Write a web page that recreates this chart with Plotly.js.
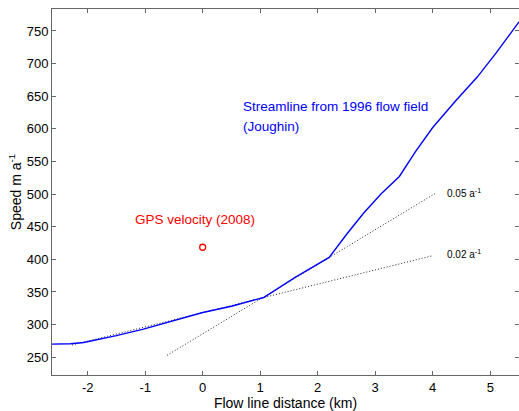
<!DOCTYPE html>
<html>
<head>
<meta charset="utf-8">
<script src="https://cdn.plot.ly/plotly-3.0.1.min.js"></script>
<style>html,body{margin:0;padding:0;background:#fff;}#chart{width:519px;height:411px;}</style>
</head>
<body>
<div id="chart"></div>
<script>
// Streamline speed from 1996 flow field (Joughin)
const streamDist = [-2.62, -2.3, -2.07, -1.5, -1.03, -0.5, 0.0, 0.5, 1.06, 1.6, 2.2, 2.5, 2.8, 3.1, 3.42, 3.7, 4.0, 4.4, 4.77, 5.1, 5.5];
const streamSpeed = [270, 270.5, 272.5, 283, 293, 306, 318.5, 328, 341.5, 372, 403, 438, 471, 500, 527, 565, 602, 643, 679, 716, 764];
// GPS velocity (2008)
const gpsDist = [0];
const gpsSpeed = [418.5];
// Reference strain-rate lines
const line05Dist = [-0.62, 4.05];
const line05Speed = [252.9, 501.3];
const line02Dist = [-2.27, 4.0];
const line02Speed = [268.7, 405.6];
// Tick values
const xTicks = [-2, -1, 0, 1, 2, 3, 4, 5];
const yTicks = [250, 300, 350, 400, 450, 500, 550, 600, 650, 700, 750];

const FONT = 'Liberation Sans, Arial, Helvetica, sans-serif';

const traces = [
  {x: line05Dist, y: line05Speed, mode: 'lines', line: {color: '#222', width: 1, dash: '1px,2px'}, hoverinfo: 'skip'},
  {x: line02Dist, y: line02Speed, mode: 'lines', line: {color: '#222', width: 1, dash: '1px,2px'}, hoverinfo: 'skip'},
  {x: streamDist, y: streamSpeed, mode: 'lines', line: {color: 'rgb(0,0,255)', width: 1.4}},
  {x: gpsDist, y: gpsSpeed, mode: 'markers', marker: {symbol: 'circle-open', size: 6, color: 'rgb(255,0,0)', line: {width: 1.3, color: 'rgb(255,0,0)'}}}
];

const axisCommon = {
  showline: true, linecolor: '#666', linewidth: 1, mirror: 'ticks',
  ticks: 'inside', ticklen: 4, tickcolor: '#666', tickwidth: 1,
  showgrid: false, zeroline: false,
  tickfont: {family: FONT, size: 13, color: '#000'}
};

const layout = {
  width: 519, height: 411,
  margin: {l: 52, r: 0, t: 9, b: 36},
  paper_bgcolor: '#fff', plot_bgcolor: '#fff',
  showlegend: false,
  xaxis: Object.assign({}, axisCommon, {
    range: [-2.62, 5.5], tickvals: xTicks, ticktext: xTicks.map(String),
    title: {text: 'Flow line distance (km)', font: {family: FONT, size: 14, color: '#000'}, standoff: 3}
  }),
  yaxis: Object.assign({}, axisCommon, {
    range: [222.7, 783.7], tickvals: yTicks, ticktext: yTicks.map(String),
    title: {text: 'Speed m a<sup>-1</sup>', font: {family: FONT, size: 14, color: '#000'}, standoff: 1}
  }),
  annotations: [
    {x: 0.66, y: 635, xref: 'x', yref: 'y', text: 'Streamline from 1996 flow field', showarrow: false, xanchor: 'left', yanchor: 'middle', font: {family: FONT, size: 13.5, color: 'rgb(0,0,255)'}},
    {x: 0.66, y: 604, xref: 'x', yref: 'y', text: '(Joughin)', showarrow: false, xanchor: 'left', yanchor: 'middle', font: {family: FONT, size: 13.5, color: 'rgb(0,0,255)'}},
    {x: -0.13, y: 461.5, xref: 'x', yref: 'y', text: 'GPS velocity (2008)', showarrow: false, xanchor: 'center', yanchor: 'middle', font: {family: FONT, size: 13.5, color: 'rgb(255,0,0)'}},
    {x: 4.22, y: 502, xref: 'x', yref: 'y', text: '0.05 a<sup>-1</sup>', showarrow: false, xanchor: 'left', yanchor: 'middle', font: {family: FONT, size: 10, color: '#000'}},
    {x: 4.22, y: 408, xref: 'x', yref: 'y', text: '0.02 a<sup>-1</sup>', showarrow: false, xanchor: 'left', yanchor: 'middle', font: {family: FONT, size: 10, color: '#000'}}
  ]
};

Plotly.newPlot('chart', traces, layout, {staticPlot: true, displayModeBar: false});
</script>
</body>
</html>
